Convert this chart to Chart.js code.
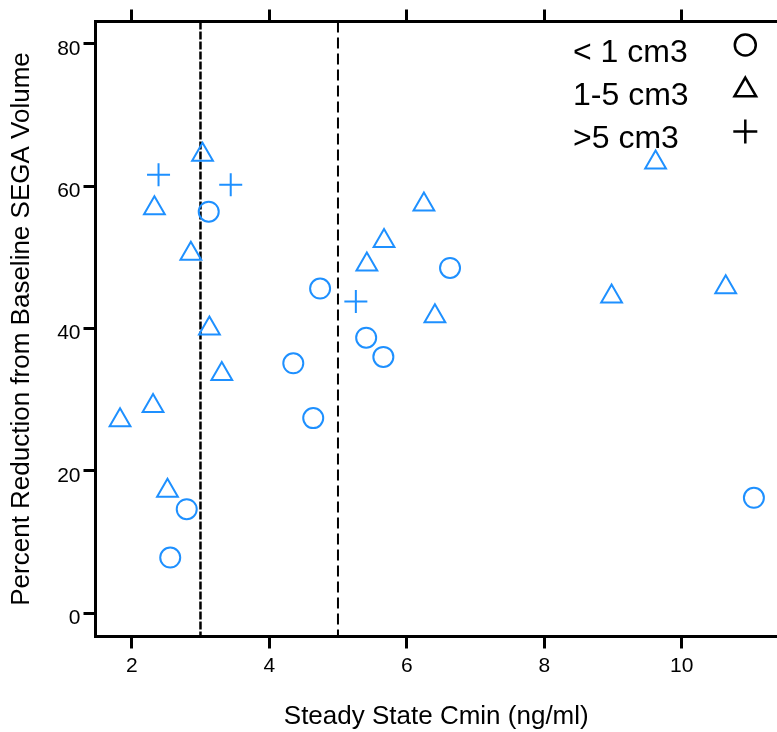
<!DOCTYPE html>
<html><head><meta charset="utf-8">
<script src="https://cdn.jsdelivr.net/npm/chart.js@4.4.1/dist/chart.umd.min.js"></script>
<style>html,body{margin:0;padding:0;background:#fff;overflow:hidden}#wrap{width:777px;height:732px}</style>
</head><body><div id="wrap"><canvas id="c" width="777" height="732"></canvas></div>
<script>
const seriesLabels = ['< 1 cm3', '1-5 cm3', '>5 cm3'];
const smallX = [3.12, 4.74, 4.35, 4.64, 5.41, 5.66, 6.63, 2.80, 2.56, 11.05];
const smallY = [56.4, 45.6, 35.1, 27.4, 38.7, 36.0, 48.5, 14.6, 7.8, 16.2];
const midX = [3.03, 2.33, 2.86, 3.13, 3.31, 2.31, 1.83, 2.52, 5.42, 5.67, 6.25, 6.41, 8.98, 9.62, 10.64];
const midY = [64.4, 56.9, 50.5, 40.0, 33.6, 29.1, 27.1, 17.2, 49.0, 52.3, 57.4, 41.7, 44.5, 63.3, 45.8];
const largeX = [2.39, 3.44, 5.26];
const largeY = [61.6, 60.2, 43.8];
const xTicks = [2, 4, 6, 8, 10];
const yTicks = [0, 20, 40, 60, 80];
const refLines = [3, 5];
const xTitle = 'Steady State Cmin (ng/ml)';
const yTitle = 'Percent Reduction from Baseline SEGA Volume';

const FAM = '"Liberation Sans", Arial, sans-serif';
const BLUE = '#1E90FF';
const X_MIN = 1.473, X_MAX = 11.386, Y_MIN = -3.29, Y_MAX = 83.13;

function pts(xs, ys) { return xs.map((x, i) => ({x: x, y: ys[i]})); }
function noPad(s) { s.paddingLeft = 0; s.paddingRight = 0; s.paddingTop = 0; s.paddingBottom = 0; }

const refPlugin = {
  id: 'refLines',
  beforeDatasetsDraw(chart) {
    const ctx = chart.ctx, a = chart.chartArea, sx = chart.scales.x;
    refLines.forEach((v, i) => {
      const px = sx.getPixelForValue(v);
      ctx.save();
      ctx.strokeStyle = '#000';
      ctx.lineWidth = i === 0 ? 2.5 : 2;
      ctx.setLineDash(i === 0 ? [8, 2] : [11, 5]);
      ctx.beginPath();
      ctx.moveTo(px, a.top);
      ctx.lineTo(px, a.bottom);
      ctx.stroke();
      ctx.restore();
    });
  }
};

const legendPlugin = {
  id: 'cornerLegend',
  afterDraw(chart) {
    const ctx = chart.ctx;
    const textY = [62, 105, 148];
    const symY = [45, 90, 131.5];
    const symR = [10.5, 12.5, 12];
    ctx.save();
    chart.data.datasets.forEach((ds, i) => {
      ctx.font = '32px ' + FAM;
      ctx.fillStyle = '#000';
      ctx.textAlign = 'left';
      ctx.textBaseline = 'alphabetic';
      ctx.fillText(ds.label, 573, textY[i]);
      ctx.strokeStyle = '#000';
      ctx.fillStyle = 'rgba(0,0,0,0)';
      ctx.lineWidth = 2.5;
      Chart.helpers.drawPoint(ctx, {pointStyle: ds.pointStyle, radius: symR[i], borderWidth: 2.5, rotation: 0}, 745.3, symY[i]);
    });
    ctx.restore();
  }
};

const gridOpts = {display: true, drawOnChartArea: false, drawTicks: true, tickLength: 12, color: '#000', lineWidth: 3};
const borderOpts = {display: true, color: '#000', width: 3};

function mkDs(label, data, style, r) {
  return {
    label: label, data: data, pointStyle: style, pointRadius: r, pointHoverRadius: r,
    borderColor: BLUE, pointBorderColor: BLUE, backgroundColor: 'rgba(0,0,0,0)',
    pointBackgroundColor: 'rgba(0,0,0,0)', borderWidth: 2, pointBorderWidth: 2,
    showLine: false, clip: false
  };
}

new Chart(document.getElementById('c'), {
  type: 'scatter',
  data: {
    datasets: [
      mkDs(seriesLabels[0], pts(smallX, smallY), 'circle', 10),
      mkDs(seriesLabels[1], pts(midX, midY), 'triangle', 12),
      mkDs(seriesLabels[2], pts(largeX, largeY), 'cross', 11.5)
    ]
  },
  options: {
    responsive: false,
    animation: false,
    devicePixelRatio: 1,
    layout: {padding: 0, autoPadding: false},
    plugins: {legend: {display: false}, tooltip: {enabled: false}},
    scales: {
      x: {
        type: 'linear', position: 'bottom', min: X_MIN, max: X_MAX,
        afterBuildTicks(s) { s.ticks = xTicks.map(v => ({value: v})); },
        afterFit(s) { s.height = 95.5; noPad(s); },
        grid: gridOpts, border: borderOpts,
        ticks: {color: '#000', font: {family: FAM, size: 21}, padding: 5, maxRotation: 0, autoSkip: false},
        title: {display: true, text: xTitle, color: '#000', font: {family: FAM, size: 26}, padding: {top: 0, bottom: 0}}
      },
      x2: {
        type: 'linear', position: 'top', min: X_MIN, max: X_MAX,
        afterBuildTicks(s) { s.ticks = xTicks.map(v => ({value: v})); },
        afterFit(s) { s.height = 21.5; noPad(s); },
        grid: gridOpts, border: borderOpts,
        ticks: {display: false}
      },
      y: {
        type: 'linear', position: 'left', min: Y_MIN, max: Y_MAX,
        afterBuildTicks(s) { s.ticks = yTicks.map(v => ({value: v})); },
        afterFit(s) { s.width = 95.5; noPad(s); },
        grid: gridOpts, border: borderOpts,
        ticks: {color: '#000', font: {family: FAM, size: 21}, padding: 3, labelOffset: 5, autoSkip: false},
        title: {display: true, text: yTitle, color: '#000', font: {family: FAM, size: 26}, padding: {top: 6, bottom: 0}}
      }
    }
  },
  plugins: [refPlugin, legendPlugin]
});
</script>
</body></html>
